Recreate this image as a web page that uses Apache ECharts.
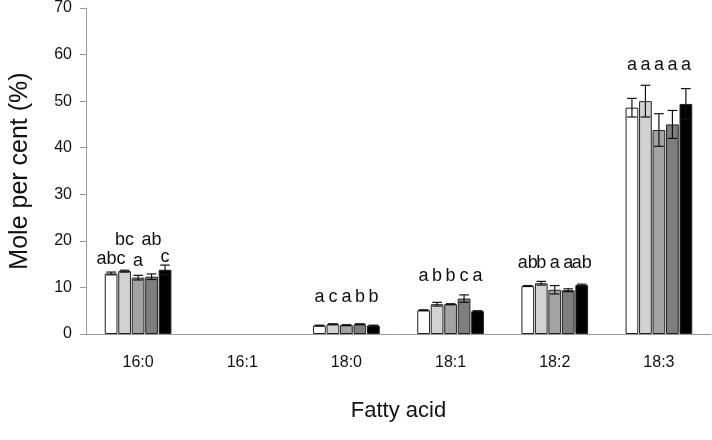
<!DOCTYPE html>
<html>
<head>
<meta charset="utf-8">
<script src="https://cdn.jsdelivr.net/npm/echarts@6/dist/echarts.min.js"></script>
<style>html,body{margin:0;padding:0;background:#fff}#c{width:712px;height:440px}</style>
</head>
<body>
<div id="c"></div>
<script>
// ---- data ----
const categories = ['16:0', '16:1', '18:0', '18:1', '18:2', '18:3'];
const s1 = [13.0, null, 1.8, 5.1, 10.3, 48.6];
const s2 = [13.5, null, 2.1, 6.4, 10.9, 50.0];
const s3 = [12.1, null, 1.9, 6.4, 9.5, 43.8];
const s4 = [12.3, null, 2.1, 7.6, 9.4, 45.0];
const s5 = [13.8, null, 1.8, 4.9, 10.5, 49.4];
const e1 = [0.3, null, 0.1, 0.1, 0.1, 2.0];
const e2 = [0.2, null, 0.1, 0.4, 0.4, 3.4];
const e3 = [0.5, null, 0.1, 0.1, 0.9, 3.5];
const e4 = [0.6, null, 0.1, 0.8, 0.3, 3.0];
const e5 = [1.0, null, 0.1, 0.1, 0.2, 3.3];
const L1 = ['abc', '', 'a', 'a', 'ab', 'a'];
const L2 = ['bc', '', 'c', 'b', 'b', 'a'];
const L3 = ['a', '', 'a', 'b', 'a', 'a'];
const L4 = ['ab', '', 'b', 'c', 'a', 'a'];
const L5 = ['c', '', 'b', 'a', 'ab', 'a'];
const Y1 = [16.0, null, 8.0, 12.4, 15.2, 57.8];
const Y2 = [20.1, null, 8.0, 12.4, 15.2, 57.8];
const Y3 = [15.6, null, 8.0, 12.4, 15.2, 57.8];
const Y4 = [20.1, null, 8.0, 12.4, 15.2, 57.8];
const Y5 = [16.6, null, 8.0, 12.4, 15.2, 57.8];
const yTicks = {min: 0, max: 70, interval: 10};

// ---- layout constants ----
const CAT_GAP = 0.36, BAR_GAP = 0.06;
const colors = ['#ffffff', '#d2d2d2', '#a3a3a3', '#7e7e7e', '#000000'];
const vals = [s1, s2, s3, s4, s5];
const errs = [e1, e2, e3, e4, e5];
const letters = [L1, L2, L3, L4, L5];
const letterY = [Y1, Y2, Y3, Y4, Y5];
const N = vals.length;

function barGeom(api, cat, idx) {
  const cx = api.coord([cat, 0])[0];
  const band = api.size([1, 0])[0];
  const groupW = band * (1 - CAT_GAP);
  const w = groupW / (N + (N - 1) * BAR_GAP);
  const total = w * N + w * BAR_GAP * (N - 1);
  return { x: cx - total / 2 + idx * w * (1 + BAR_GAP) + w / 2, w: w };
}

const errData = [];
const txtData = [];
const txtList = [];
for (let i = 0; i < N; i++) {
  for (let c = 0; c < categories.length; c++) {
    if (vals[i][c] != null && errs[i][c] != null) errData.push([c, i, vals[i][c], errs[i][c]]);
    if (letters[i][c]) { txtData.push([c, i, letterY[i][c]]); txtList.push(letters[i][c]); }
  }
}

const barSeries = vals.map((v, i) => ({
  type: 'bar',
  data: v,
  barCategoryGap: (CAT_GAP * 100) + '%',
  barGap: (BAR_GAP * 100) + '%',
  itemStyle: { color: colors[i], borderColor: '#222', borderWidth: 1 },
  z: 2
}));

const chart = echarts.init(document.getElementById('c'), null, { renderer: 'canvas' });
chart.setOption({
  animation: false,
  grid: { left: 84, right: 1, top: 8, bottom: 106 },
  xAxis: {
    type: 'category',
    data: categories,
    name: 'Fatty acid',
    nameLocation: 'middle',
    nameGap: 66,
    nameTextStyle: { fontFamily: 'Liberation Sans', fontSize: 22, color: '#111' },
    axisLine: { lineStyle: { color: '#999', width: 1 } },
    axisTick: { show: false },
    axisLabel: { fontFamily: 'Liberation Sans', fontSize: 16, color: '#111', margin: 21 }
  },
  yAxis: {
    type: 'value',
    min: yTicks.min, max: yTicks.max, interval: yTicks.interval,
    name: 'Mole per cent (%)',
    nameLocation: 'middle',
    nameGap: 53,
    nameRotate: 90,
    nameTextStyle: { fontFamily: 'Liberation Sans', fontSize: 25, color: '#111' },
    splitLine: { show: false },
    axisLine: { show: true, lineStyle: { color: '#999', width: 1 } },
    axisTick: { show: true, length: 6, lineStyle: { color: '#999' } },
    axisLabel: { fontFamily: 'Liberation Sans', fontSize: 16, color: '#111', margin: 14 }
  },
  series: barSeries.concat([
    {
      type: 'custom',
      data: errData,
      encode: { x: 0, y: 2 },
      z: 5,
      renderItem: function (params, api) {
        const cat = api.value(0), idx = api.value(1), m = api.value(2), e = api.value(3);
        const g = barGeom(api, cat, idx);
        const top = api.coord([cat, m + e])[1];
        const bot = api.coord([cat, m - e])[1];
        const half = g.w * 0.38;
        const st = { stroke: '#111', lineWidth: 1.2 };
        return {
          type: 'group',
          children: [
            { type: 'line', shape: { x1: g.x, y1: top, x2: g.x, y2: bot }, style: st },
            { type: 'line', shape: { x1: g.x - half, y1: top, x2: g.x + half, y2: top }, style: st },
            { type: 'line', shape: { x1: g.x - half, y1: bot, x2: g.x + half, y2: bot }, style: st }
          ]
        };
      }
    },
    {
      type: 'custom',
      data: txtData,
      encode: { x: 0, y: 2 },
      z: 6,
      renderItem: function (params, api) {
        const cat = api.value(0), idx = api.value(1), y = api.value(2);
        const g = barGeom(api, cat, idx);
        const p = api.coord([cat, y]);
        return {
          type: 'text',
          style: {
            x: g.x, y: p[1], text: txtList[params.dataIndex],
            align: 'center', verticalAlign: 'middle',
            font: '18px "Liberation Sans", Arial, sans-serif', fill: '#111'
          }
        };
      }
    }
  ])
});
</script>
</body>
</html>
